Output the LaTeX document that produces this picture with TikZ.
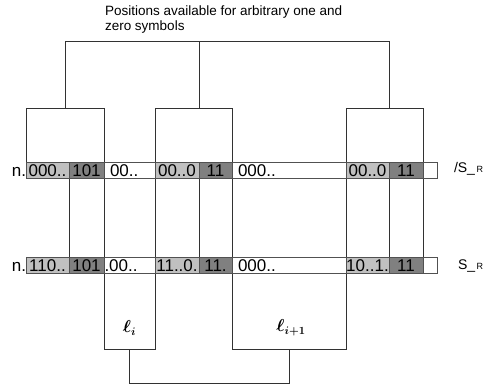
\documentclass[tikz,border=0pt]{standalone}
\usepackage{amsmath}
\usepackage{fontspec}
\setmainfont{Liberation Sans}
\definecolor{lg}{RGB}{192,192,192}
\definecolor{dg}{RGB}{128,128,128}
\definecolor{ln}{RGB}{50,50,50}
\begin{document}
\begin{tikzpicture}[x=1pt,y=-1pt,
  every node/.style={inner sep=0pt, outer sep=0pt},
  frame/.style={draw=ln, line width=0.8pt, anchor=north west},
  conn/.style={draw=ln, line width=0.8pt},
  seg/.style={draw=ln!85, line width=0.7pt, anchor=west, minimum height=16pt,
    text height=12pt, text depth=0pt, font=\fontsize{17}{17}\selectfont},
  lseg/.style={seg, fill=lg},
  dseg/.style={seg, fill=dg},
  wseg/.style={seg, fill=white, align=left, inner xsep=6pt},
  nlab/.style={anchor=base east, font=\fontsize{17}{17}\selectfont},
  title/.style={anchor=base west, font=\fontsize{13.5}{15}\selectfont},
  ell/.style={font=\fontsize{16}{16}\selectfont}
]
\useasboundingbox (0,0) rectangle (485,386);

% boxes
\node[frame, minimum width=78pt, minimum height=62pt] (boxA) at (26,108) {};
\node[frame, minimum width=35pt, minimum height=95pt] (colA) at (69,170) {};
\node[frame, minimum width=51pt, minimum height=179pt] (li) at (104,170) {};
\node[frame, minimum width=77pt, minimum height=62pt] (boxB) at (155,108) {};
\node[frame, minimum width=33pt, minimum height=95pt] (colB) at (199,170) {};
\node[frame, minimum width=114pt, minimum height=179pt] (lii) at (232,170) {};
\node[frame, minimum width=77pt, minimum height=62pt] (boxC) at (346,108) {};
\node[frame, minimum width=34pt, minimum height=95pt] (colC) at (389,170) {};

% brackets
\coordinate (topbar) at (0,41);
\coordinate (botbar) at (0,383);
\draw[conn] (boxA.north) |- (colC.west |- topbar) -- (colC.west |- boxC.north);
\draw[conn] (colB.west |- topbar) -- (colB.west |- boxB.north);
\draw[conn] (li.south) |- (lii.south |- botbar) -- (lii.south);

% top strip
\node[lseg, minimum width=43pt] (t1) at (26,170.5) {000..};
\node[dseg, minimum width=35pt] (t2) at (69,170.5) {101};
\node[wseg, text width=39pt] (t3) at (104,170.5) {00..};
\node[lseg, minimum width=44pt] (t4) at (155,170.5) {00..0};
\node[dseg, minimum width=33pt] (t5) at (199,170.5) {11};
\node[wseg, text width=102pt] (t6) at (232,170.5) {000..};
\node[lseg, minimum width=43pt] (t7) at (346,170.5) {00..0};
\node[dseg, minimum width=34pt] (t8) at (389,170.5) {11};
\node[seg, fill=white, minimum width=14pt] (t9) at (423,170.5) {};

% bottom strip
\node[lseg, minimum width=43pt] (b1) at (26,265) {110..};
\node[dseg, minimum width=35pt] (b2) at (69,265) {101};
\node[wseg, text width=50pt, inner xsep=0.5pt] (b3) at (104,265) {.00..};
\node[lseg, minimum width=44pt] (b4) at (155,265) {11..0.};
\node[dseg, minimum width=33pt] (b5) at (199,265) {11.};
\node[wseg, text width=102pt] (b6) at (232,265) {000..};
\node[lseg, minimum width=43pt] (b7) at (346,265) {10..1.};
\node[dseg, minimum width=34pt] (b8) at (389,265) {11};
\node[seg, fill=white, minimum width=14pt] (b9) at (423,265) {};

% labels
\node[nlab] (n1) at (26,176.5) {n.};
\node[nlab] (n2) at (26,271) {n.};
\node[anchor=base west] (sr1) at (454,172) {\fontsize{14}{14}\selectfont /S\_\kern1.5pt\fontsize{9}{9}\selectfont R};
\node[anchor=base west] (sr2) at (458,269) {\fontsize{14}{14}\selectfont S\_\kern1.5pt\fontsize{9}{9}\selectfont R};
\node[title] (tt1) at (105,15) {Positions available for arbitrary one and};
\node[title] (tt2) at (105,30) {zero symbols};
\node[ell] (lab1) at (129.5,328) {$\boldsymbol{\ell}_{\boldsymbol{i}}$};
\node[ell] (lab2) at (291,328) {$\boldsymbol{\ell}_{\boldsymbol{i+1}}$};
\end{tikzpicture}
\end{document}
